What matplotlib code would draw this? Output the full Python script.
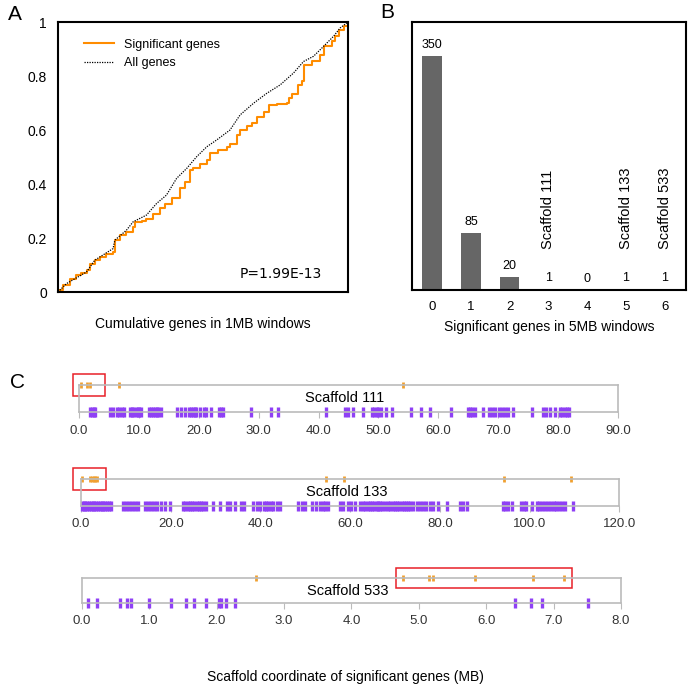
import numpy as np
import matplotlib.pyplot as plt
from matplotlib.patches import Rectangle

plt.rcParams['font.family'] = ['Liberation Sans', 'DejaVu Sans']

# panel A - cumulative curves
sig_x = [0.0, 0.003, 0.017, 0.043, 0.061, 0.081, 0.100, 0.109, 0.127, 0.144, 0.167, 0.190, 0.196, 0.213,
         0.236, 0.257, 0.265, 0.288, 0.305, 0.328, 0.351, 0.369, 0.392, 0.409, 0.420, 0.438, 0.455,
         0.467, 0.490, 0.513, 0.524, 0.553, 0.582, 0.593, 0.616, 0.628, 0.651, 0.668, 0.685, 0.709,
         0.726, 0.755, 0.789, 0.795, 0.806, 0.829, 0.841, 0.849, 0.876, 0.904, 0.916, 0.945, 0.956,
         0.968, 0.985, 1.0]
sig_y = [0.0, 0.006, 0.025, 0.050, 0.062, 0.070, 0.083, 0.105, 0.118, 0.130, 0.142, 0.148, 0.194, 0.210,
         0.223, 0.241, 0.260, 0.262, 0.272, 0.290, 0.310, 0.325, 0.347, 0.350, 0.384, 0.408, 0.452,
         0.458, 0.474, 0.489, 0.514, 0.526, 0.538, 0.550, 0.582, 0.600, 0.615, 0.627, 0.650, 0.668,
         0.693, 0.697, 0.700, 0.718, 0.734, 0.767, 0.782, 0.842, 0.854, 0.879, 0.910, 0.928, 0.947,
         0.972, 0.984, 1.0]
all_x = [0.0, 0.029, 0.098, 0.127, 0.190, 0.196, 0.236, 0.259, 0.305, 0.340, 0.374, 0.409, 0.444, 0.478,
         0.513, 0.547, 0.593, 0.628, 0.674, 0.720, 0.766, 0.812, 0.847, 0.881, 0.916, 0.950, 0.973, 1.0]
all_y = [0.0, 0.031, 0.074, 0.118, 0.161, 0.192, 0.229, 0.260, 0.285, 0.328, 0.359, 0.421, 0.458, 0.501,
         0.538, 0.563, 0.600, 0.656, 0.699, 0.736, 0.767, 0.811, 0.854, 0.873, 0.910, 0.947, 0.978, 1.0]

# panel B - counts
bins = [0, 1, 2, 3, 4, 5, 6]
counts = [350, 85, 20, 1, 0, 1, 1]
bin_names = ['', '', '', 'Scaffold 111', '', 'Scaffold 133', 'Scaffold 533']

# panel C - gene positions (MB)
s111_sig = [0.3, 1.3, 1.9, 6.6, 54.1]
s111_genes = [1.9, 2.2, 2.5, 2.7, 5.1, 5.6, 6.3, 6.7, 7.1, 7.5, 8.5, 8.8, 9.1, 9.5, 9.8, 10.1, 10.3,
              11.7, 12.1, 12.4, 12.7, 13.0, 13.2, 13.7, 16.3, 17.1, 17.7, 18.4, 18.7, 19.0, 19.3,
              19.5, 20.2, 20.8, 21.2, 22.1, 23.3, 23.7, 24.0, 28.8, 32.0, 33.2, 41.2, 44.4, 44.9,
              45.8, 47.5, 48.9, 49.3, 49.7, 50.0, 50.5, 51.2, 52.2, 55.4, 57.1, 58.6, 62.2, 64.9,
              65.3, 65.7, 66.1, 67.4, 68.4, 69.0, 69.5, 70.1, 70.6, 71.2, 71.7, 72.4, 75.7, 77.4,
              78.0, 78.6, 79.5, 80.3, 80.7, 81.1, 81.5, 81.9]
s133_sig = [0.3, 2.0, 2.4, 2.8, 3.2, 3.5, 54.6, 58.7, 94.4, 109.2]
s133_genes = [0.2, 0.6, 1.0, 1.4, 1.8, 2.2, 2.6, 3.0, 3.4, 3.8, 4.2, 4.6, 5.0, 5.4, 5.8, 6.2, 6.6,
              9.4, 10.0, 10.6, 11.4, 12.0, 12.8, 14.3, 15.0, 15.6, 16.3, 17.0, 17.8, 18.7, 19.8,
              22.8, 23.3, 23.8, 24.3, 24.8, 25.3, 25.8, 26.3, 26.8, 27.3, 27.9, 29.4, 31.0, 32.5,
              33.2, 34.3, 35.6, 36.3, 38.4, 39.2, 39.9, 40.7, 41.2, 41.8, 42.4, 42.9, 43.6, 44.4,
              48.4, 49.2, 49.9, 51.4, 52.5, 53.3, 54.0, 54.5, 55.1, 57.7, 58.5, 59.6, 60.3, 61.1,
              62.3, 62.9, 63.4, 63.9, 64.4, 64.9, 65.4, 65.9, 66.3, 66.7, 67.2, 67.8, 68.5, 69.0,
              69.5, 70.0, 70.4, 71.0, 71.5, 72.0, 72.5, 73.0, 73.3, 74.1, 74.8, 75.6, 76.3, 77.0,
              77.8, 78.5, 79.5, 81.7, 84.5, 85.2, 86.1, 94.0, 94.5, 95.3, 96.0, 98.2, 98.8, 99.3,
              100.5, 101.6, 102.2, 102.8, 103.4, 104.2, 104.8, 105.4, 106.0, 106.6, 107.2, 107.9, 109.6]
s533_sig = [2.58, 4.77, 5.15, 5.21, 5.84, 6.69, 7.15]
s533_genes = [0.10, 0.23, 0.57, 0.67, 0.73, 1.0, 1.32, 1.55, 1.67, 1.85, 2.04, 2.07, 2.14, 2.27,
              6.43, 6.67, 6.82, 7.51]

orange = '#FF8C00'
orange_light = '#F0A030'
purple = '#8F40F5'
grey = '#BBBBBB'

fig = plt.figure(figsize=(6.88, 6.86), dpi=100)

# ---- A
axA = fig.add_axes([0.0843, 0.5743, 0.4215, 0.3936])
axA.step(sig_x, sig_y, where='post', color=orange, lw=1.5, label='Significant genes')
axA.plot(all_x, all_y, color='black', ls=(0, (1, 1)), lw=0.9, label='All genes')
axA.set_xlim(0, 1)
axA.set_ylim(0, 1)
axA.set_xticks([])
axA.set_yticks([0, 0.2, 0.4, 0.6, 0.8, 1.0])
axA.set_yticklabels(['0', '0.2', '0.4', '0.6', '0.8', '1'])
axA.tick_params(axis='y', length=0, labelsize=10, pad=8)
for s in axA.spines.values():
    s.set_linewidth(1.5)
axA.legend(loc='upper left', frameon=False, fontsize=9, handlelength=2.4,
           bbox_to_anchor=(0.05, 0.98), labelspacing=0.5)
axA.text(0.91, 0.067, 'P=1.99E-13', ha='right', va='center', fontsize=10, family='DejaVu Sans')
axA.set_xlabel('Cumulative genes in 1MB windows', fontsize=10, labelpad=18)

# ---- B
axB = fig.add_axes([412 / 688, 1 - 290 / 686, 274 / 688, 268 / 686])
axB.bar(bins, counts, width=0.5, color='#666666')
for b, c, name in zip(bins, counts, bin_names):
    axB.annotate(str(c), (b, c), xytext=(0, 3.5), textcoords='offset points',
                 ha='center', va='bottom', fontsize=9)
    if name:
        axB.annotate(name, (b, c), xytext=(0, 29), textcoords='offset points',
                     ha='center', va='bottom', rotation=90, fontsize=10.5)
axB.set_xlim(-0.52, 6.55)
axB.set_ylim(0, 400)
axB.set_yticks([])
axB.set_xticks(bins)
axB.tick_params(axis='x', length=0, labelsize=9.5, pad=8)
for s in axB.spines.values():
    s.set_linewidth(1.5)
axB.set_xlabel('Significant genes in 5MB windows', fontsize=10, labelpad=5)

# ---- C
tracks = [
    ('Scaffold 111', s111_sig, s111_genes, 90, 10, (-0.95, 4.3), [0.1148, 0.3994, 0.7834, 0.0394]),
    ('Scaffold 133', s133_sig, s133_genes, 120, 20, (-1.7, 5.5), [0.1177, 0.2624, 0.7824, 0.0394]),
    ('Scaffold 533', s533_sig, s533_genes, 8, 1, (4.66, 7.27), [0.1188, 0.1210, 0.7839, 0.0364]),
]
for name, sig, genes, xmax, step, box, pos in tracks:
    ax = fig.add_axes(pos)
    ax.set_xlim(0, xmax)
    ax.set_ylim(0, 1)
    for s in ax.spines.values():
        s.set_color(grey)
        s.set_linewidth(1.2)
    ax.plot(genes, np.zeros(len(genes)), ls='none', marker='|', ms=6.5, mew=2.4,
            color=purple, clip_on=False)
    ax.plot(sig, np.ones(len(sig)), ls='none', marker='|', ms=5, mew=2,
            color=orange_light, clip_on=False)
    ax.add_patch(Rectangle((box[0], 0.6), box[1] - box[0], 0.8, fill=False,
                           edgecolor='#E82028', lw=1.1, clip_on=False))
    ticks = np.arange(0, xmax + step / 2, step)
    ax.set_xticks(ticks)
    ax.set_xticklabels(['%.1f' % t for t in ticks])
    ax.tick_params(axis='x', length=4, color=grey, labelsize=9.5, labelcolor='#333333', pad=5)
    ax.set_yticks([])
    ax.text(0.493, 0.5, name, transform=ax.transAxes, ha='center', va='center', fontsize=10.5)

fig.text(0.502, 1 - 677 / 686, 'Scaffold coordinate of significant genes (MB)',
         ha='center', va='center', fontsize=10)

fig.text(0.022, 1 - 14 / 686, 'A', ha='center', va='center', fontsize=15)
fig.text(387 / 688, 1 - 13 / 686, 'B', ha='center', va='center', fontsize=15)
fig.text(0.026, 1 - 383 / 686, 'C', ha='center', va='center', fontsize=15)

fig.savefig('out.png', dpi=100)
